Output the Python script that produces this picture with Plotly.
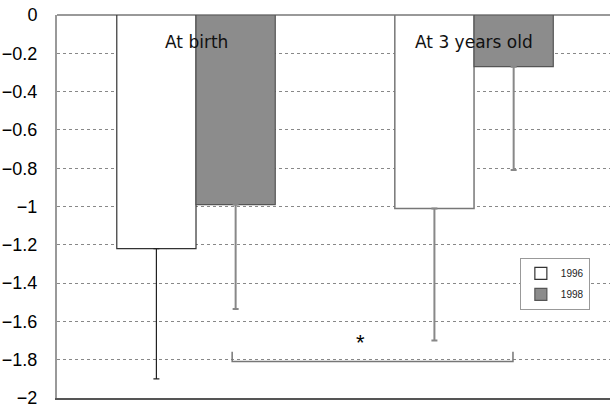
import plotly.graph_objects as go

categories = ["At birth", "At 3 years old"]
cat_pos = [0, 1]
series_names = ["1996", "1998"]
values_1996 = [-1.22, -1.01]
values_1998 = [-0.99, -0.27]
sd_1996 = [0.68, 0.69]
sd_1998 = [0.545, 0.54]
y_ticks = [0, -0.2, -0.4, -0.6, -0.8, -1, -1.2, -1.4, -1.6, -1.8, -2]
sig_bracket_x = [0.13, 1.14]
sig_bracket_y = [-1.81, -1.758]
sig_label = "*"

fig = go.Figure()

# 1996, at birth (darker outline & error bar)
fig.add_trace(go.Bar(
    x=[cat_pos[0]], y=[values_1996[0]], name=series_names[0],
    offsetgroup="a", legendgroup="a",
    marker=dict(color="white", line=dict(color="#333333", width=1.2)),
    error_y=dict(type="data", symmetric=False, array=[0], arrayminus=[sd_1996[0]],
                 color="#222222", thickness=1.2, width=3),
))
# 1996, at 3 years
fig.add_trace(go.Bar(
    x=[cat_pos[1]], y=[values_1996[1]], name=series_names[0],
    offsetgroup="a", legendgroup="a", showlegend=False,
    marker=dict(color="white", line=dict(color="#777777", width=1.5)),
    error_y=dict(type="data", symmetric=False, array=[0], arrayminus=[sd_1996[1]],
                 color="#888888", thickness=2, width=3),
))
# 1998
fig.add_trace(go.Bar(
    x=cat_pos, y=values_1998, name=series_names[1],
    offsetgroup="b", legendgroup="b",
    marker=dict(color="#8c8c8c", line=dict(color="#555555", width=1.2)),
    error_y=dict(type="data", symmetric=False, array=[0, 0], arrayminus=sd_1998,
                 color="#888888", thickness=2, width=3),
))

# category labels inside the plot
for xp, label in zip(cat_pos, categories):
    fig.add_annotation(x=xp, y=-0.14, text=label, showarrow=False,
                       font=dict(family="DejaVu Sans", size=17, color="#111111"),
                       xanchor="center", yanchor="middle")

# significance bracket
x0, x1 = sig_bracket_x
yb, yt = sig_bracket_y
fig.add_shape(type="path",
              path=f"M {x0},{yt} L {x0},{yb} L {x1},{yb} L {x1},{yt}",
              line=dict(color="#777777", width=1.5))
fig.add_annotation(x=(x0 + x1) / 2 - 0.045, y=-1.71, text=sig_label, showarrow=False,
                   font=dict(family="Liberation Sans", size=22, color="black"),
                   xanchor="center", yanchor="middle")

fig.update_layout(
    width=610, height=405,
    margin=dict(l=57, r=0, t=15, b=7),
    paper_bgcolor="white", plot_bgcolor="white",
    barmode="group", bargap=0.43, bargroupgap=0,
    showlegend=True,
    legend=dict(x=0.837, y=0.366, xanchor="left", yanchor="top",
                bgcolor="white", bordercolor="#999999", borderwidth=1,
                font=dict(family="Liberation Sans", size=10, color="#222222"),
                itemwidth=30, tracegroupgap=2),
    font=dict(family="Liberation Sans", color="black"),
)
fig.update_xaxes(range=[-0.5, 1.489], showticklabels=False, showgrid=False,
                 zeroline=False, showline=True, linecolor="#555555", linewidth=2,
                 ticks="", automargin=False)
fig.update_yaxes(range=[-2, 0], tickvals=y_ticks,
                 showgrid=True, gridcolor="#888888", griddash="dot", gridwidth=1,
                 zeroline=True, zerolinecolor="#999999", zerolinewidth=1.5,
                 showline=True, linecolor="#999999", linewidth=2,
                 ticks="", ticklabelstandoff=14, automargin=False,
                 ticklabeloverflow="allow",
                 tickfont=dict(family="Liberation Sans", size=18, color="black"))

fig.write_html("out.html", config={"displayModeBar": False},
               post_script="document.body.style.margin='0';document.body.style.overflow='hidden';")
